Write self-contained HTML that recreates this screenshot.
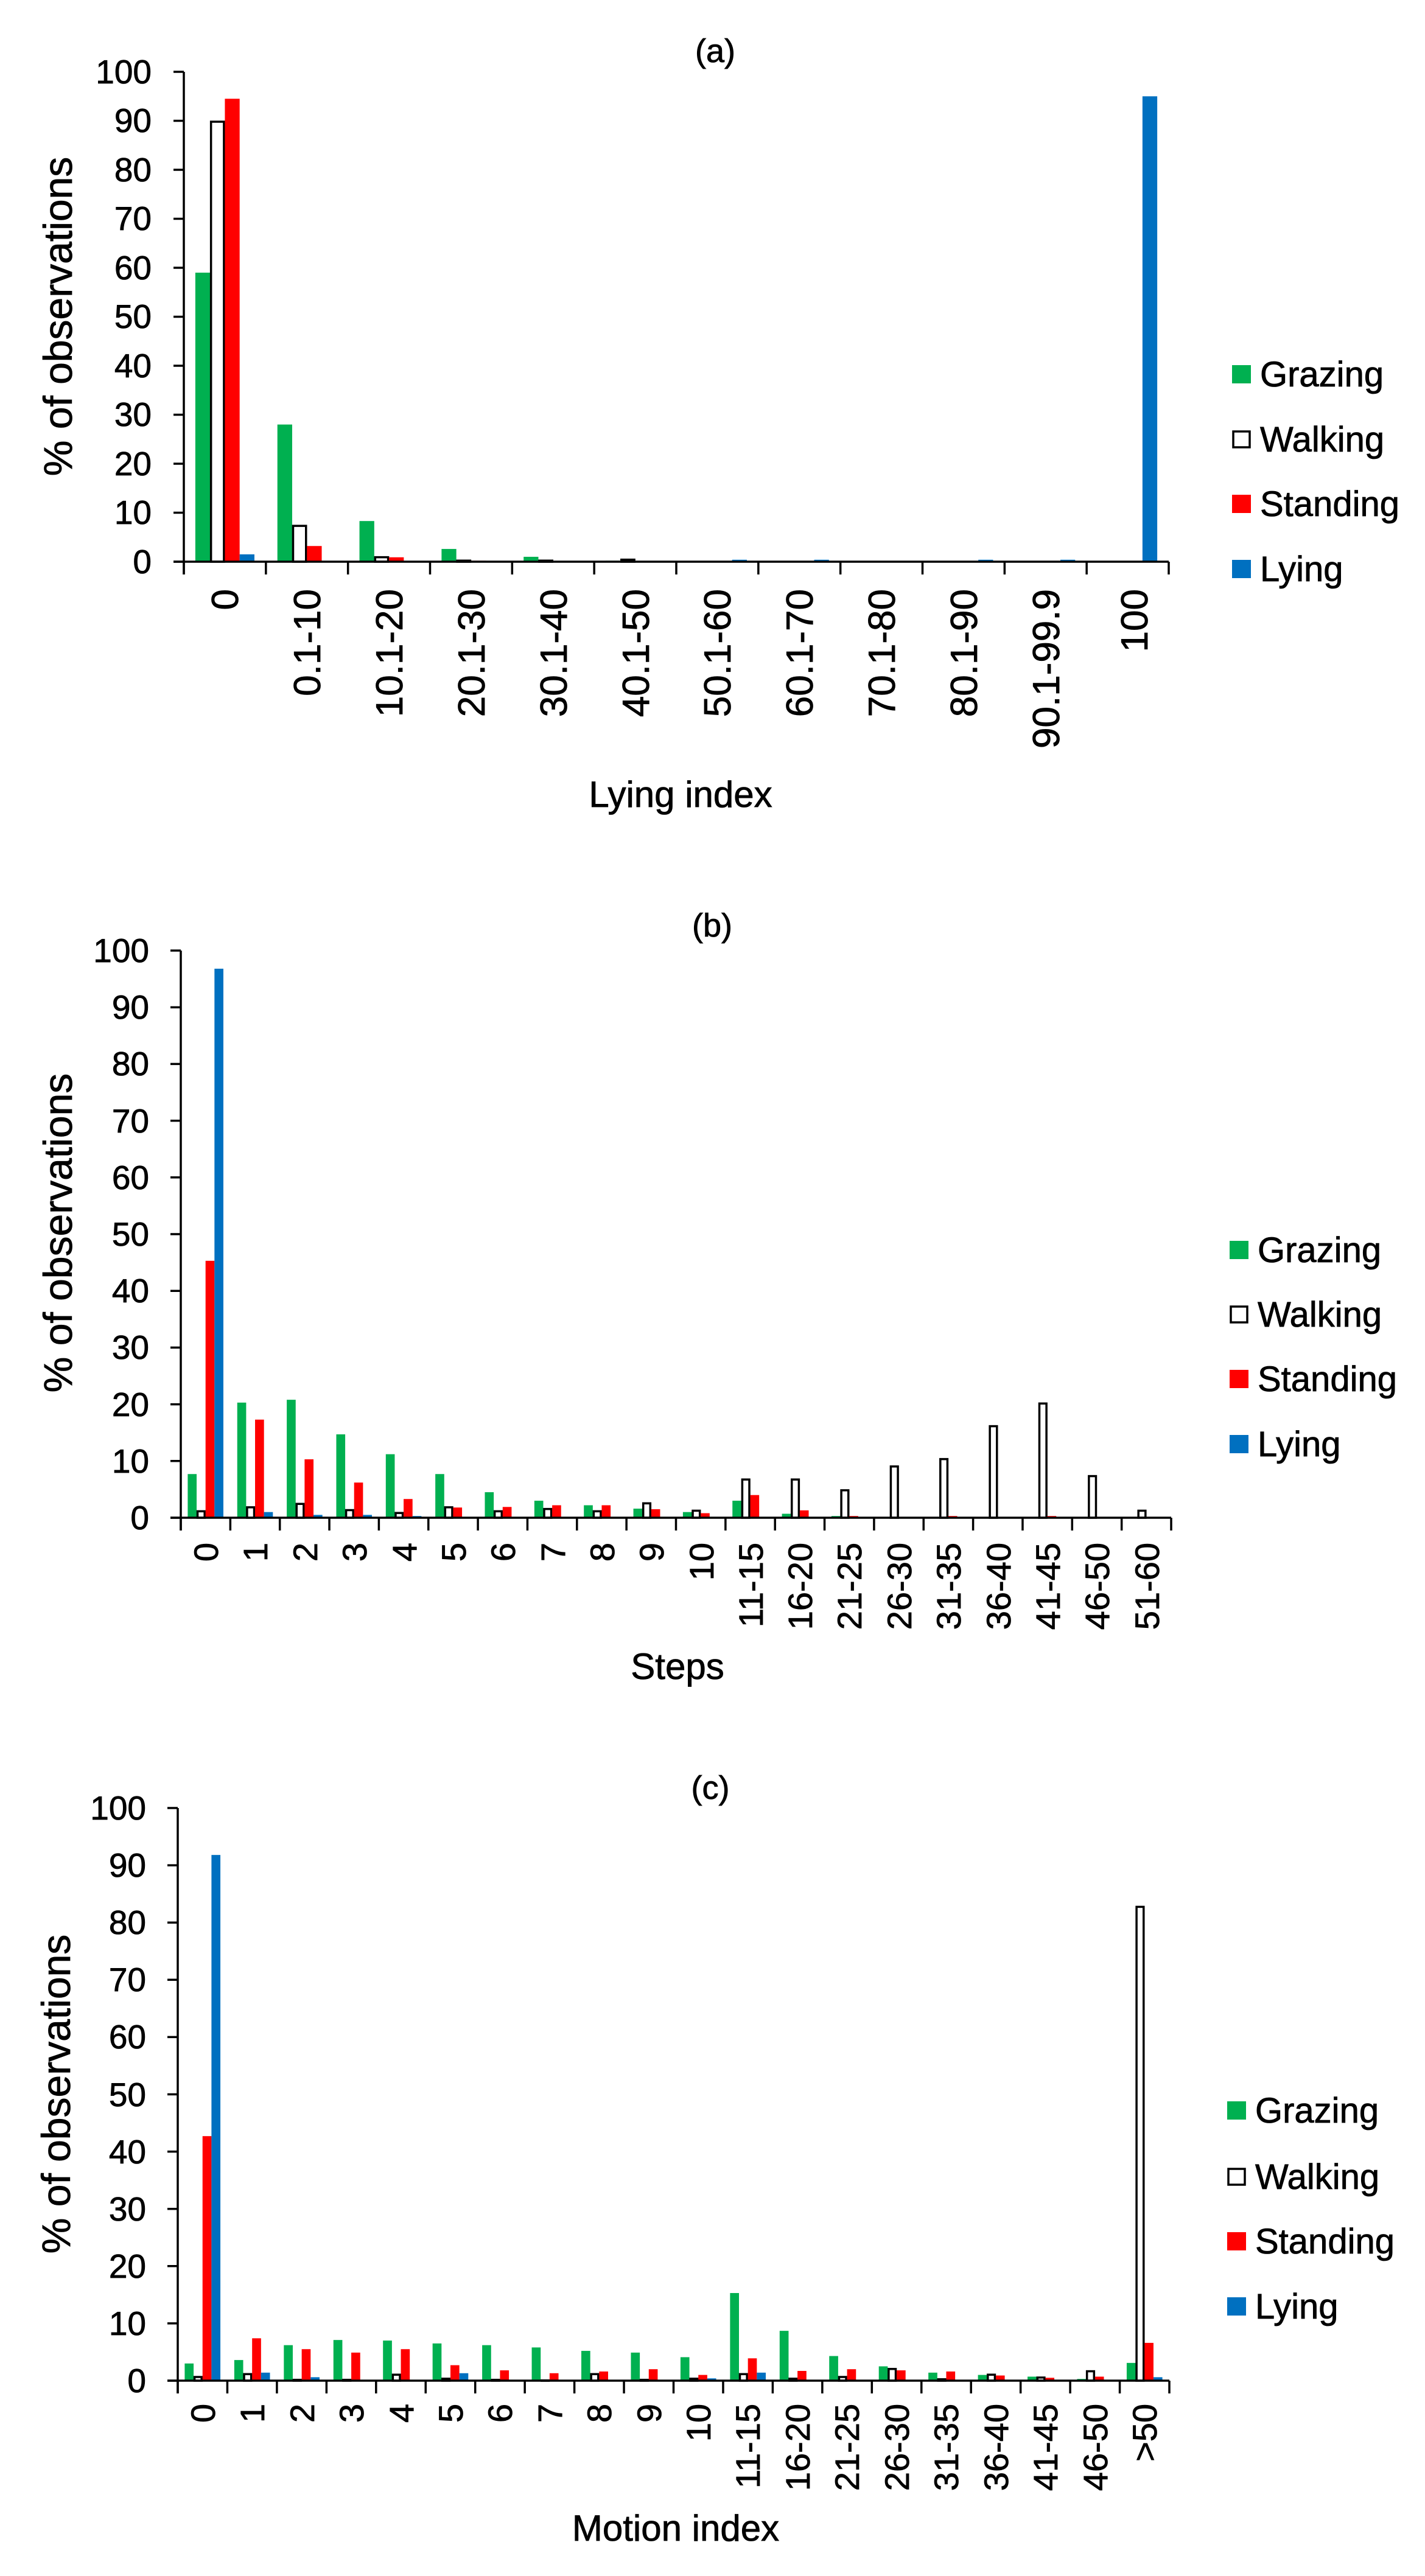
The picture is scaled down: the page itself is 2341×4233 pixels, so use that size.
<!DOCTYPE html>
<html><head><meta charset="utf-8"><style>
html,body{margin:0;padding:0;background:#fff;}
svg{display:block;}
text{font-family:"Liberation Sans",Arial,sans-serif;fill:#000;stroke:#000;stroke-width:0.8px;}
.t{font-size:55px;text-anchor:end;}
.ca{font-size:62px;text-anchor:end;}
.cb{font-size:56px;text-anchor:end;}
.lg{font-size:58px;}
.ttl{font-size:54px;text-anchor:middle;}
.yt{font-size:66px;text-anchor:middle;}
.xt{font-size:60px;text-anchor:middle;}
</style></head><body>
<svg id="s" width="2341" height="4233" viewBox="0 0 2341 4233" xmlns="http://www.w3.org/2000/svg">
<rect width="2341" height="4233" fill="#fff"/>
<g id="bars"></g>
<!-- Chart A -->
<text class="ttl" x="1175" y="102">(a)</text>
<text class="yt" transform="translate(118,520) rotate(-90)">% of observations</text>
<text class="t" x="249" y="942">0</text><text class="t" x="249" y="861">10</text><text class="t" x="249" y="781">20</text><text class="t" x="249" y="700">30</text><text class="t" x="249" y="620">40</text><text class="t" x="249" y="539">50</text><text class="t" x="249" y="459">60</text><text class="t" x="249" y="378">70</text><text class="t" x="249" y="298">80</text><text class="t" x="249" y="217">90</text><text class="t" x="249" y="137">100</text>
<text class="ca" transform="translate(391,968) rotate(-90)">0</text>
<text class="ca" transform="translate(526,968) rotate(-90)">0.1-10</text>
<text class="ca" transform="translate(661,968) rotate(-90)">10.1-20</text>
<text class="ca" transform="translate(796,968) rotate(-90)">20.1-30</text>
<text class="ca" transform="translate(931,968) rotate(-90)">30.1-40</text>
<text class="ca" transform="translate(1066,968) rotate(-90)">40.1-50</text>
<text class="ca" transform="translate(1200,968) rotate(-90)">50.1-60</text>
<text class="ca" transform="translate(1335,968) rotate(-90)">60.1-70</text>
<text class="ca" transform="translate(1470,968) rotate(-90)">70.1-80</text>
<text class="ca" transform="translate(1605,968) rotate(-90)">80.1-90</text>
<text class="ca" transform="translate(1740,968) rotate(-90)">90.1-99.9</text>
<text class="ca" transform="translate(1885,968) rotate(-90)">100</text>
<text class="xt" x="1118" y="1326">Lying index</text>
<text class="lg" x="2070" y="635">Grazing</text>
<text class="lg" x="2070" y="742">Walking</text>
<text class="lg" x="2070" y="848">Standing</text>
<text class="lg" x="2070" y="955">Lying</text>

<!-- Chart B -->
<text class="ttl" x="1170" y="1539">(b)</text>
<text class="yt" transform="translate(118,2026) rotate(-90)">% of observations</text>
<text class="t" x="245" y="2513">0</text><text class="t" x="245" y="2420">10</text><text class="t" x="245" y="2327">20</text><text class="t" x="245" y="2233">30</text><text class="t" x="245" y="2140">40</text><text class="t" x="245" y="2047">50</text><text class="t" x="245" y="1954">60</text><text class="t" x="245" y="1861">70</text><text class="t" x="245" y="1767">80</text><text class="t" x="245" y="1674">90</text><text class="t" x="245" y="1581">100</text>
<text class="cb" transform="translate(358,2535) rotate(-90)">0</text>
<text class="cb" transform="translate(439,2535) rotate(-90)">1</text>
<text class="cb" transform="translate(521,2535) rotate(-90)">2</text>
<text class="cb" transform="translate(602,2535) rotate(-90)">3</text>
<text class="cb" transform="translate(684,2535) rotate(-90)">4</text>
<text class="cb" transform="translate(765,2535) rotate(-90)">5</text>
<text class="cb" transform="translate(846,2535) rotate(-90)">6</text>
<text class="cb" transform="translate(928,2535) rotate(-90)">7</text>
<text class="cb" transform="translate(1009,2535) rotate(-90)">8</text>
<text class="cb" transform="translate(1090,2535) rotate(-90)">9</text>
<text class="cb" transform="translate(1172,2535) rotate(-90)">10</text>
<text class="cb" transform="translate(1253,2535) rotate(-90)">11-15</text>
<text class="cb" transform="translate(1334,2535) rotate(-90)">16-20</text>
<text class="cb" transform="translate(1415,2535) rotate(-90)">21-25</text>
<text class="cb" transform="translate(1497,2535) rotate(-90)">26-30</text>
<text class="cb" transform="translate(1578,2535) rotate(-90)">31-35</text>
<text class="cb" transform="translate(1660,2535) rotate(-90)">36-40</text>
<text class="cb" transform="translate(1741,2535) rotate(-90)">41-45</text>
<text class="cb" transform="translate(1822,2535) rotate(-90)">46-50</text>
<text class="cb" transform="translate(1904,2535) rotate(-90)">51-60</text>
<text class="xt" x="1113" y="2759">Steps</text>
<text class="lg" x="2066" y="2074">Grazing</text>
<text class="lg" x="2066" y="2180">Walking</text>
<text class="lg" x="2066" y="2286">Standing</text>
<text class="lg" x="2066" y="2393">Lying</text>

<!-- Chart C -->
<text class="ttl" x="1167" y="2956">(c)</text>
<text class="yt" transform="translate(115,3441) rotate(-90)">% of observations</text>
<text class="t" x="240" y="3931">0</text><text class="t" x="240" y="3837">10</text><text class="t" x="240" y="3743">20</text><text class="t" x="240" y="3649">30</text><text class="t" x="240" y="3555">40</text><text class="t" x="240" y="3461">50</text><text class="t" x="240" y="3366">60</text><text class="t" x="240" y="3272">70</text><text class="t" x="240" y="3178">80</text><text class="t" x="240" y="3084">90</text><text class="t" x="240" y="2990">100</text>
<text class="cb" transform="translate(353,3950) rotate(-90)">0</text>
<text class="cb" transform="translate(434,3950) rotate(-90)">1</text>
<text class="cb" transform="translate(516,3950) rotate(-90)">2</text>
<text class="cb" transform="translate(597,3950) rotate(-90)">3</text>
<text class="cb" transform="translate(679,3950) rotate(-90)">4</text>
<text class="cb" transform="translate(760,3950) rotate(-90)">5</text>
<text class="cb" transform="translate(841,3950) rotate(-90)">6</text>
<text class="cb" transform="translate(923,3950) rotate(-90)">7</text>
<text class="cb" transform="translate(1004,3950) rotate(-90)">8</text>
<text class="cb" transform="translate(1086,3950) rotate(-90)">9</text>
<text class="cb" transform="translate(1167,3950) rotate(-90)">10</text>
<text class="cb" transform="translate(1248,3950) rotate(-90)">11-15</text>
<text class="cb" transform="translate(1330,3950) rotate(-90)">16-20</text>
<text class="cb" transform="translate(1411,3950) rotate(-90)">21-25</text>
<text class="cb" transform="translate(1493,3950) rotate(-90)">26-30</text>
<text class="cb" transform="translate(1574,3950) rotate(-90)">31-35</text>
<text class="cb" transform="translate(1656,3950) rotate(-90)">36-40</text>
<text class="cb" transform="translate(1737,3950) rotate(-90)">41-45</text>
<text class="cb" transform="translate(1819,3950) rotate(-90)">46-50</text>
<text class="cb" transform="translate(1900,3950) rotate(-90)">&gt;50</text>
<text class="xt" x="1110" y="4175">Motion index</text>
<text class="lg" x="2062" y="3488">Grazing</text>
<text class="lg" x="2062" y="3597">Walking</text>
<text class="lg" x="2062" y="3703">Standing</text>
<text class="lg" x="2062" y="3810">Lying</text>
</svg>
<script>
(function(){
var NS="http://www.w3.org/2000/svg",g=document.getElementById('bars');
function el(t,a){var e=document.createElementNS(NS,t);for(var k in a)e.setAttribute(k,a[k]);g.appendChild(e);return e;}
var COL=['#00B050','#fff','#FF0000','#0070C0'];
var charts=[
{x0:302,x1:1920,y0:923,h:805,lx:2024,ly:[615,722,828,935],d:[[59,90,94.5,1.5],[28,7.5,3.2,0],[8.3,1.1,0.9,0],[2.6,0.4,0.2,0],[1,0.4,0,0],[0.2,0.6,0,0],[0,0,0,0.4],[0,0,0,0.4],[0,0,0,0],[0,0,0,0.4],[0,0,0,0.4],[0,0,0,95]]},
{x0:297,x1:1924,y0:2494,h:932,lx:2020,ly:[2054,2160,2266,2373],d:[[7.7,1.3,45.3,96.8],[20.3,2,17.3,1],[20.8,2.6,10.3,0.5],[14.7,1.5,6.2,0.5],[11.2,1,3.3,0.3],[7.7,2,1.8,0],[4.5,1.3,1.9,0],[3,1.7,2.2,0],[2.2,1.3,2.2,0],[1.6,2.7,1.5,0],[1,1.4,0.8,0],[3,6.9,4,0],[0.7,6.9,1.3,0],[0.3,5,0.3,0],[0,9.2,0,0],[0,10.5,0.3,0],[0,16.3,0,0],[0,20.3,0.3,0],[0,7.5,0,0],[0,1.4,0,0]]},
{x0:292,x1:1921,y0:3912,h:941,lx:2016,ly:[3468,3577,3683,3790],d:[[3,0.8,42.7,91.8],[3.6,1.3,7.4,1.4],[6.2,0.3,5.5,0.6],[7.1,0.3,4.9,0],[7,1.2,5.5,0],[6.5,0.5,2.7,1.3],[6.2,0.3,1.8,0],[5.8,0.2,1.3,0],[5.2,1.3,1.6,0],[4.9,0.3,2,0],[4.1,0.5,1,0.4],[15.3,1.3,3.9,1.4],[8.7,0.5,1.7,0],[4.3,0.8,2,0],[2.5,2.2,1.8,0],[1.4,0.4,1.6,0],[1,1.2,0.9,0],[0.7,0.7,0.5,0],[0.3,1.8,0.7,0],[3.1,82.9,6.6,0.6]]}
];
charts.forEach(function(c){
 var n=c.d.length,cw=(c.x1-c.x0)/n,bw=cw*0.18,off=cw*0.14;
 c.d.forEach(function(r,i){
  r.forEach(function(v,j){
   if(v<=0)return;
   var x=c.x0+i*cw+off+j*bw,hh=v*c.h/100,y=c.y0-hh;
   if(j==1){el('rect',{x:x+1.5,y:y+1.5,width:bw-3,height:Math.max(hh-1.5,0.5),fill:'#fff',stroke:'#000','stroke-width':3.5});}
   else el('rect',{x:x,y:y,width:bw,height:hh,fill:COL[j]});
  });
 });
 el('line',{x1:c.x0,y1:c.y0-c.h,x2:c.x0,y2:c.y0+21,stroke:'#000','stroke-width':3.5});
 el('line',{x1:c.x0-17,y1:c.y0,x2:c.x1,y2:c.y0,stroke:'#000','stroke-width':3.5});
 for(var k=0;k<=10;k++){var yy=c.y0-k*c.h/10;el('line',{x1:c.x0-17,y1:yy,x2:c.x0,y2:yy,stroke:'#000','stroke-width':3.5});}
 for(var i=0;i<=n;i++){var xx=c.x0+i*cw;el('line',{x1:xx,y1:c.y0,x2:xx,y2:c.y0+21,stroke:'#000','stroke-width':3.5});}
 c.ly.forEach(function(y,j){
  if(j==1)el('rect',{x:c.lx+2,y:y-13,width:27,height:26,fill:'#fff',stroke:'#000','stroke-width':3.5});
  else el('rect',{x:c.lx,y:y-15,width:31,height:30,fill:COL[j]});
 });
});
})();
</script>
</body></html>
